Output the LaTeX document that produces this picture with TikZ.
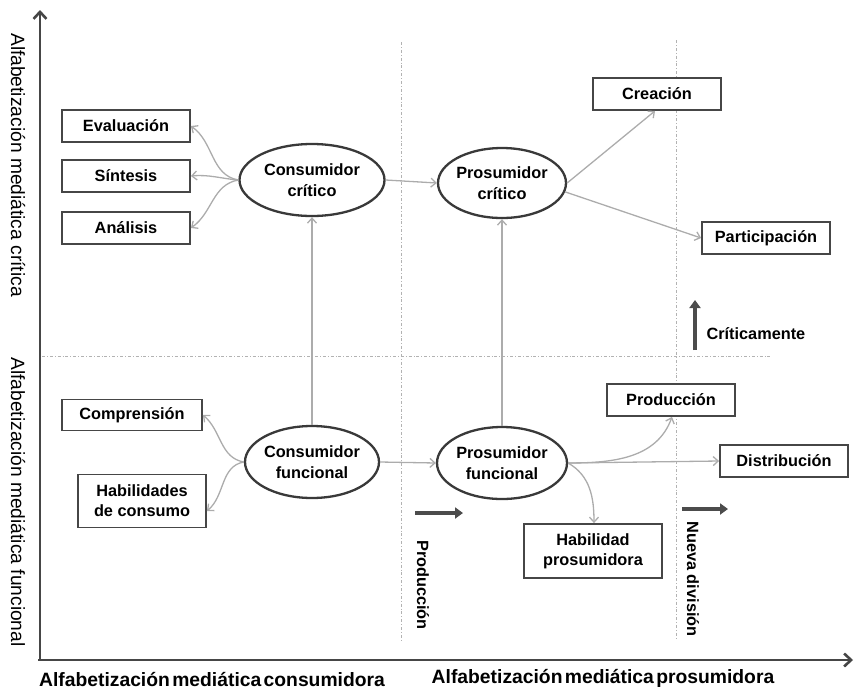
\documentclass[tikz,border=0pt]{standalone}
\usepackage{fontspec}
\setmainfont{Liberation Sans}
\usetikzlibrary{shapes.geometric,arrows.meta}
\begin{document}
\begin{tikzpicture}[x=1pt,y=-1pt,
  box/.style={draw=gray!55!black,line width=1.8pt,fill=white,minimum width=128pt,minimum height=32pt,inner sep=2pt,align=center,font=\bfseries\fontsize{16.3}{20}\selectfont},
  ell/.style={ellipse,draw=gray!45!black,line width=2.3pt,fill=white,inner sep=0pt,align=center,font=\bfseries\fontsize{16.3}{20.5}\selectfont},
  conn/.style={draw=gray!65,line width=1.3pt,-{Straight Barb[length=5pt,width=9pt]}},
  fat/.style={draw=gray!60!black,line width=3.2pt,-{Triangle[length=8pt,width=11pt]}},
  axis/.style={draw=gray!55!black,line width=2.6pt,-{Straight Barb[length=7pt,width=13pt]}},
  divline/.style={draw=gray!60,line width=0.8pt,dash pattern=on 3pt off 2pt on 0.8pt off 2pt},
  axlabel/.style={font=\bfseries\fontsize{19.3}{22}\selectfont},
  ylabel/.style={font=\fontsize{19.2}{22}\selectfont,rotate=-90},
  side/.style={font=\bfseries\fontsize{16.3}{19}\selectfont}]
\useasboundingbox (0,0) rectangle (856,691);
% axes
\coordinate (o) at (40,660);
\coordinate (ytop) at (40,10);
\coordinate (xend) at (853,660);
\draw[axis] (o) -- (ytop);
\draw[axis] ([xshift=-2pt]o) -- (xend);
% division lines
\coordinate (h1) at (42,356);
\coordinate (h2) at (770,356);
\coordinate (v1t) at (401,42);
\coordinate (v1b) at (401,640);
\coordinate (v2t) at (676,40);
\coordinate (v2b) at (676,640);
\draw[divline] (h1) -- (h2);
\draw[divline] (v1t) -- (v1b);
\draw[divline] (v2t) -- (v2b);
% axis labels
\node[ylabel] (ylab1) at (18,165) {Alfabetización mediática crítica};
\node[ylabel] (ylab2) at (18,502) {Alfabetización mediática funcional};
\node[axlabel] (xlab1) at (212,680) {Alfabetización\hspace{-3pt} mediática\hspace{-3pt} consumidora};
\node[axlabel] (xlab2) at (603,678) {Alfabetización\hspace{-3pt} mediática\hspace{-3pt} prosumidora};
% ellipses
\node[ell,minimum width=145pt,minimum height=72pt] (cc) at (312,180) {Consumidor\\crítico};
\node[ell,inner xsep=-3pt,minimum width=128pt,minimum height=70pt] (pc) at (502,183) {Prosumidor\\crítico};
\node[ell,inner xsep=-2pt,minimum width=134pt,minimum height=72pt] (cf) at (312,462) {Consumidor\\funcional};
\node[ell,inner xsep=-3pt,minimum width=130pt,minimum height=72pt] (pf) at (502,463) {Prosumidor\\funcional};
% boxes
\node[box] (eval) at (126,126) {Evaluación};
\node[box] (sint) at (126,176) {Síntesis};
\node[box] (anal) at (126,228) {Análisis};
\node[box,minimum width=140pt,minimum height=31pt] (comp) at (132,415) {Comprensión};
\node[box,minimum height=53pt] (habc) at (142,501) {Habilidades\\de consumo};
\node[box] (crea) at (657,94) {Creación};
\node[box] (part) at (766,238) {Participación};
\node[box] (prod) at (671,400) {Producción};
\node[box] (dist) at (784,461) {Distribución};
\node[box,minimum width=138pt,minimum height=54pt] (habp) at (593,551) {Habilidad\\prosumidora};
% connectors
\draw[conn] (cc.east) -- (pc.west);
\draw[conn] (cf.east) -- (pf.west);
\draw[conn] (cf.north) -- (cc.south);
\draw[conn] (pf.north) -- (pc.south);
\draw[conn] (cc.west) to[out=170,in=-35] (eval.east);
\draw[conn] (cc.west) to[out=175,in=5] (sint.east);
\draw[conn] (cc.west) to[out=190,in=35] (anal.east);
\draw[conn] (cf.west) to[out=170,in=-40] (comp.east);
\draw[conn] (cf.west) to[out=190,in=40] ([yshift=-10pt]habc.east);
\draw[conn] (pc.east) -- ([xshift=-2pt]crea.south);
\draw[conn] (pc.-8) -- (part.west);
\draw[conn] (pf.east) to[out=0,in=-110] ([xshift=1pt]prod.south);
\draw[conn] (pf.east) -- (dist.west);
\draw[conn] (pf.east) to[out=-30,in=90] ([xshift=1pt]habp.north);
% thick arrows and side labels
\coordinate (a1s) at (415,513);
\coordinate (a1e) at (463,513);
\draw[fat] (a1s) -- (a1e);
\coordinate (a2s) at (682,509);
\coordinate (a2e) at (728,509);
\draw[fat] (a2s) -- (a2e);
\coordinate (a3s) at (695,350);
\coordinate (a3e) at (695,300);
\draw[fat] (a3s) -- (a3e);
\node[side,anchor=west] (crit) at (703,334) {Críticamente};
\node[side,rotate=-90] (prodl) at (423,585) {Producción};
\node[side,rotate=-90] (nueva) at (693,579) {Nueva división};
\end{tikzpicture}
\end{document}
